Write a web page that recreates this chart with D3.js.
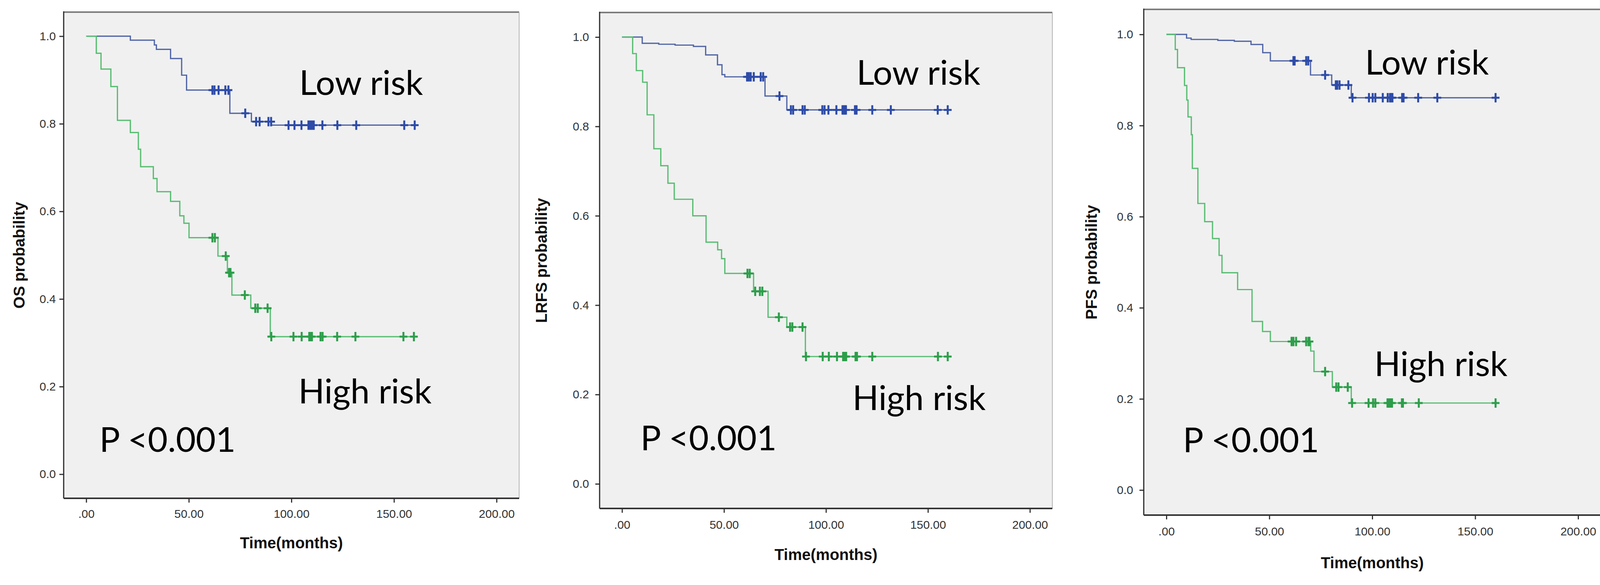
<!DOCTYPE html>
<html>
<head>
<meta charset="utf-8">
<script src="https://cdn.jsdelivr.net/npm/d3@7"></script>
<style>
  body { margin: 0; background: #ffffff; }
  svg { display: block; }
</style>
</head>
<body>
<div id="chart"></div>
<script>
// ---- data: [time (months), survival after the drop] ----
const osLowSteps = [[21.5,0.991],[33.2,0.980],[34.2,0.970],[41.1,0.949],[46.5,0.911],[48.9,0.877],[70.0,0.824],[80.5,0.805],[90.3,0.797]]
const osLowCensor = [61.5,62.5,64.5,67.8,69.3,77.5,82.8,84.5,88.8,90.1,98.6,101.5,104.9,108.3,109.2,110.0,110.9,115.1,122.4,131.6,155.0,160.1]
const osHighSteps = [[4.9,0.961],[7.2,0.925],[12.0,0.885],[15.2,0.808],[21.5,0.780],[25.4,0.742],[26.5,0.702],[32.7,0.675],[34.5,0.645],[41.1,0.623],[45.6,0.590],[47.6,0.573],[50.1,0.540],[64.2,0.498],[68.8,0.460],[71.0,0.409],[80.2,0.379],[89.7,0.314]]
const osHighCensor = [61.5,62.7,68.0,69.6,70.3,77.3,82.4,83.6,88.4,90.2,101.0,105.0,108.7,109.4,110.0,114.2,115.2,122.3,131.2,154.6,159.7]

const lrfsLowSteps = [[9.9,0.986],[18.0,0.984],[26.0,0.982],[35.0,0.979],[41.0,0.960],[46.8,0.938],[49.0,0.916],[50.4,0.911],[70.1,0.868],[80.8,0.837]]
const lrfsLowCensor = [61.3,62.2,63.1,64.6,68.0,69.2,77.2,82.8,83.9,88.5,89.6,98.2,99.3,101.2,105.1,108.1,108.7,109.3,109.8,114.2,115.0,122.7,131.8,154.8,159.7]
const lrfsHighSteps = [[5.2,0.963],[7.0,0.925],[10.1,0.899],[12.3,0.826],[15.6,0.750],[19.0,0.712],[22.5,0.673],[25.6,0.637],[34.7,0.600],[41.2,0.541],[46.9,0.524],[48.8,0.504],[50.4,0.471],[64.5,0.431],[71.6,0.373],[80.8,0.351],[89.9,0.285]]
const lrfsHighCensor = [61.5,62.6,65.3,67.6,68.8,76.9,82.4,83.5,88.5,90.2,98.4,101.4,105.4,108.4,108.9,109.4,109.9,114.5,115.2,122.7,154.9,159.7]

const pfsLowSteps = [[9.8,0.992],[12.0,0.989],[25.0,0.987],[33.0,0.985],[41.1,0.978],[46.8,0.960],[50.5,0.942],[70.0,0.911],[80.3,0.889],[89.8,0.861]]
const pfsLowCensor = [61.7,62.3,67.9,68.9,77.1,82.3,83.0,84.1,88.4,90.4,98.4,100.2,101.5,105.1,107.5,108.6,109.2,109.8,114.5,115.2,122.3,131.6,159.9]
const pfsHighSteps = [[4.3,0.967],[5.4,0.927],[8.8,0.888],[9.9,0.856],[10.5,0.819],[12.1,0.780],[12.6,0.706],[15.3,0.629],[18.6,0.589],[22.4,0.552],[25.6,0.515],[27.0,0.477],[34.6,0.440],[41.6,0.370],[46.7,0.348],[50.5,0.326],[70.1,0.305],[71.7,0.260],[80.6,0.226],[89.8,0.191]]
const pfsHighCensor = [60.8,61.7,63.0,67.9,69.0,69.5,77.1,82.5,83.6,88.1,90.2,98.2,100.4,101.5,107.4,108.2,109.0,109.6,114.4,114.9,122.6,159.9]

const yTitles = ["OS probability", "LRFS probability", "PFS probability"]
const xTitle = "Time(months)"
const xTicks = [0, 50, 100, 150, 200]
const yTicks = [0, 0.2, 0.4, 0.6, 0.8, 1.0]
const lowLabel = "Low risk"
const highLabel = "High risk"
const pLabel = "P <0.001"

// ---- layout (pixels) ----
const width = 4185, height = 1498
const layout = [
  { x0: 163, x1: 1329, y0: 31, y1: 1276, yTitleOff: 114, yPad: 9, xPad: 18, xTitleOff: 128,
    low: [103.8, 0.866], high: [103.4, 0.162], p: [6.4, 0.051] },
  { x0: 1535, x1: 2694, y0: 32, y1: 1302, yTitleOff: 149, yPad: 16, xPad: 20, xTitleOff: 132,
    low: [115.0, 0.893], high: [113.0, 0.165], p: [9.0, 0.075] },
  { x0: 2928, x1: 4098, y0: 24, y1: 1319, yTitleOff: 134, yPad: 16, xPad: 20, xTitleOff: 136,
    low: [96.5, 0.912], high: [101.0, 0.250], p: [8.0, 0.083] }
]
const series = [
  [osLowSteps, osLowCensor, osHighSteps, osHighCensor],
  [lrfsLowSteps, lrfsLowCensor, lrfsHighSteps, lrfsHighCensor],
  [pfsLowSteps, pfsLowCensor, pfsHighSteps, pfsHighCensor]
]

const blueLine = "#5266a6", blueMark = "#2d4ba8"
const greenLine = "#58bd72", greenMark = "#2c9e4a"

const svg = d3.select("#chart").append("svg")
    .attr("viewBox", [0, 0, width, height])
    .attr("width", width)
    .attr("height", height)

//survival value at time t for a step list
function survivalAt(steps, t){
    let s = 1
    for(const [st, sv] of steps){
        if(st <= t) s = sv
    }
    return s
}

function drawPanel(L, data, yTitle){
    const [lowSteps, lowCensor, highSteps, highCensor] = data
    const x = d3.scaleLinear().domain([-11, 211]).range([L.x0, L.x1])
    const y = d3.scaleLinear().domain([-0.055, 1.055]).range([L.y1, L.y0])
    const g = svg.append("g")

    //plot background
    g.append("rect")
        .attr("x", L.x0).attr("y", L.y0)
        .attr("width", L.x1 - L.x0).attr("height", L.y1 - L.y0)
        .attr("fill", "#f0f0f0")

    //frame: top and right lighter
    g.append("line").attr("x1", L.x0).attr("x2", L.x1).attr("y1", L.y0).attr("y2", L.y0)
        .attr("stroke", "#7c7c7c").attr("stroke-width", 4)
    g.append("line").attr("x1", L.x1).attr("x2", L.x1).attr("y1", L.y0).attr("y2", L.y1)
        .attr("stroke", "#b4b4b4").attr("stroke-width", 2)

    //axes
    const yAxis = d3.axisLeft(y).tickValues(yTicks).tickFormat(d3.format(".1f"))
        .tickSize(11).tickSizeOuter(0).tickPadding(L.yPad)
    const xAxis = d3.axisBottom(x).tickValues(xTicks)
        .tickFormat(d => d === 0 ? ".00" : d.toFixed(2))
        .tickSize(11).tickSizeOuter(0).tickPadding(L.xPad)

    const ya = g.append("g").attr("transform", `translate(${L.x0},0)`).call(yAxis)
    const xa = g.append("g").attr("transform", `translate(0,${L.y1})`).call(xAxis)
    for(const a of [ya, xa]){
        a.select(".domain").remove()
        a.selectAll(".tick line").attr("stroke", "#333").attr("stroke-width", 3)
        a.selectAll(".tick text")
            .attr("font-family", "'Liberation Sans', Arial, sans-serif")
            .attr("font-size", 30).attr("fill", "#333")
    }
    g.append("line").attr("x1", L.x0).attr("x2", L.x0).attr("y1", L.y0 - 2).attr("y2", L.y1)
        .attr("stroke", "#2a2a2a").attr("stroke-width", 3)
    g.append("line").attr("x1", L.x0).attr("x2", L.x1).attr("y1", L.y1).attr("y2", L.y1)
        .attr("stroke", "#333").attr("stroke-width", 4)

    //axis titles
    g.append("text")
        .attr("x", x(100)).attr("y", L.y1 + L.xTitleOff)
        .attr("text-anchor", "middle")
        .attr("font-family", "'Liberation Sans', Arial, sans-serif")
        .attr("font-weight", "bold").attr("font-size", 40).attr("fill", "#111")
        .text(xTitle)
    g.append("text")
        .attr("transform", `translate(${L.x0 - L.yTitleOff + 14},${(L.y0 + L.y1) / 2}) rotate(-90)`)
        .attr("text-anchor", "middle")
        .attr("font-family", "'Liberation Sans', Arial, sans-serif")
        .attr("font-weight", "bold").attr("font-size", 40).attr("fill", "#111")
        .text(yTitle)

    //curves
    const line = d3.line().curve(d3.curveStepAfter).x(d => x(d[0])).y(d => y(d[1]))
    const drawGroup = (steps, censor, lineColor, markColor) => {
        const last = d3.max(censor)
        const pts = [[0, 1], ...steps, [last, steps[steps.length - 1][1]]]
        g.append("path").datum(pts)
            .attr("fill", "none").attr("stroke", lineColor).attr("stroke-width", 3.2)
            .attr("d", line)
        const marks = g.append("g").attr("stroke", markColor).attr("stroke-width", 5)
        censor.forEach(c => {
            const cx = x(c), cy = y(survivalAt(steps, c))
            marks.append("path").attr("d", `M${cx - 10},${cy}H${cx + 10}M${cx},${cy - 12}V${cy + 12}`)
        })
    }
    drawGroup(lowSteps, lowCensor, blueLine, blueMark)
    drawGroup(highSteps, highCensor, greenLine, greenMark)

    //annotations
    const note = (pos, txt) => g.append("text")
        .attr("x", x(pos[0])).attr("y", y(pos[1]))
        .attr("font-family", "Lato, 'Open Sans', sans-serif")
        .attr("font-size", 88).attr("fill", "#000")
        .text(txt)
    note(L.low, lowLabel)
    note(L.high, highLabel)
    note(L.p, pLabel)
}

layout.forEach((L, i) => drawPanel(L, series[i], yTitles[i]))
</script>
</body>
</html>
